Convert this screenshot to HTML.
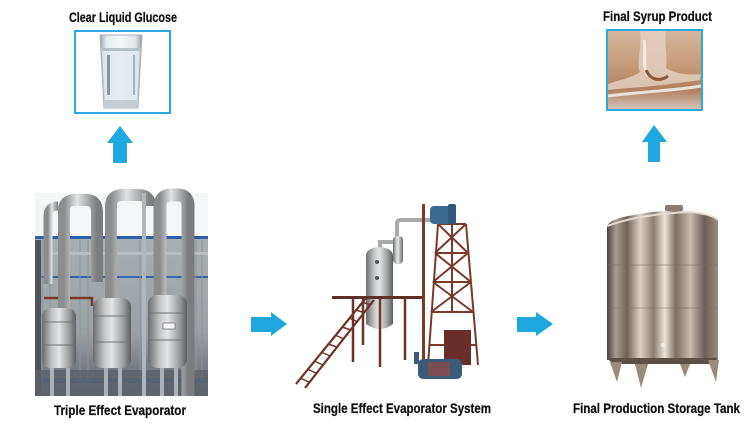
<!DOCTYPE html>
<html><head><meta charset="utf-8"><style>
html,body{margin:0;padding:0;background:#fff;}
svg{display:block;}
text{font-family:"Liberation Sans",sans-serif;font-weight:bold;fill:#111;stroke:#111;stroke-width:0.25;}
</style></head><body>
<svg width="750" height="426" viewBox="0 0 750 426" xmlns="http://www.w3.org/2000/svg">
<defs>
<linearGradient id="steel" x1="0" x2="1" y1="0" y2="0">
<stop offset="0" stop-color="#6a6c6e"/><stop offset="0.3" stop-color="#c4c6c8"/><stop offset="0.5" stop-color="#e4e5e6"/><stop offset="0.8" stop-color="#9a9c9e"/><stop offset="1" stop-color="#5c5e60"/>
</linearGradient>
<linearGradient id="pipe" x1="0" x2="1" y1="0" y2="0">
<stop offset="0" stop-color="#8a8c8e"/><stop offset="0.4" stop-color="#e2e3e4"/><stop offset="1" stop-color="#7a7c7e"/>
</linearGradient>
<linearGradient id="tank" x1="0" x2="1" y1="0" y2="0">
<stop offset="0" stop-color="#4a423d"/><stop offset="0.08" stop-color="#a89a8e"/><stop offset="0.18" stop-color="#6e625a"/><stop offset="0.3" stop-color="#dcd2c8"/><stop offset="0.42" stop-color="#8a7d72"/><stop offset="0.52" stop-color="#ebe3da"/><stop offset="0.62" stop-color="#7a6e64"/><stop offset="0.75" stop-color="#c8bcb0"/><stop offset="0.88" stop-color="#6a5f58"/><stop offset="1" stop-color="#9a8c80"/>
</linearGradient>
<linearGradient id="syrup" x1="0" x2="0" y1="0" y2="1">
<stop offset="0" stop-color="#d6b8a0"/><stop offset="0.45" stop-color="#c49a78"/><stop offset="0.75" stop-color="#b08060"/><stop offset="1" stop-color="#d8c8bc"/>
</linearGradient>
<linearGradient id="glass" x1="0" x2="1" y1="0" y2="0">
<stop offset="0" stop-color="#9aa4ac"/><stop offset="0.15" stop-color="#e6ecf0"/><stop offset="0.5" stop-color="#f4f7f9"/><stop offset="0.85" stop-color="#dfe6eb"/><stop offset="1" stop-color="#8e99a2"/>
</linearGradient>
<linearGradient id="wall" x1="0" x2="0" y1="0" y2="1">
<stop offset="0" stop-color="#a9b0b4"/><stop offset="0.6" stop-color="#9aa0a4"/><stop offset="1" stop-color="#5a6068"/>
</linearGradient>
</defs>

<!-- Titles -->
<text x="69" y="22" font-size="14" textLength="108" lengthAdjust="spacingAndGlyphs">Clear Liquid Glucose</text>
<text x="603" y="21" font-size="14" textLength="109" lengthAdjust="spacingAndGlyphs">Final Syrup Product</text>

<!-- Glass box -->
<rect x="75" y="31" width="95" height="82" fill="#fff" stroke="#29a9e0" stroke-width="2"/>
<path d="M100,35 L142,35 L138,108 L104,108 Z" fill="url(#glass)" stroke="#a8b2ba" stroke-width="1"/>
<rect x="101" y="48" width="40" height="3" fill="#b6c2ca"/>
<path d="M102,51 L140,51 L137,100 L105,100 Z" fill="#e2eaef" opacity="0.8"/>
<rect x="104" y="100" width="34" height="8" fill="#c6ced4"/>
<rect x="107" y="55" width="3" height="40" fill="#8c969e"/>
<rect x="133" y="55" width="2" height="40" fill="#a6b0b8"/>

<!-- Syrup box -->
<rect x="607" y="30" width="95" height="80" fill="url(#syrup)" stroke="#29a9e0" stroke-width="2"/>
<path d="M640,31 C642,50 636,62 640,72 C632,78 618,80 608,84 L608,90 C630,88 660,86 700,80 L701,74 C685,76 672,72 666,68 C668,56 664,44 666,31 Z" fill="#e4cfbe" opacity="0.85"/>
<path d="M644,40 C646,55 642,66 648,76" stroke="#f4ece4" stroke-width="3" fill="none"/>
<path d="M608,96 C640,92 680,90 701,86" stroke="#ece2d8" stroke-width="3" fill="none"/>
<path d="M646,70 C650,80 660,82 668,76" stroke="#8a5a3a" stroke-width="3" fill="none"/>

<!-- Up arrows -->
<polygon points="120,126 133,143 127,143 127,163 113,163 113,143 107,143" fill="#1fa8df"/>
<polygon points="654,125 667,142 660,142 660,162 648,162 648,142 642,142" fill="#1fa8df"/>

<!-- Right arrows -->
<polygon points="251,317 271,317 271,312 287,324 271,336 271,332 251,332" fill="#1fa8df"/>
<polygon points="517,317 536,317 536,312 553,324 536,336 536,332 517,332" fill="#1fa8df"/>

<!-- Triple effect evaporator -->
<g>
<rect x="35" y="193" width="173" height="203" fill="#f4f6f8"/>
<rect x="35" y="237" width="173" height="159" fill="url(#wall)"/>
<rect x="35" y="236" width="173" height="3" fill="#2f5ea6"/>
<rect x="35" y="276" width="173" height="2" fill="#3a64a8"/>
<rect x="35" y="378" width="173" height="5" fill="#3a5c98"/>
<g stroke="#8e959a" stroke-width="1">
<line x1="42" y1="240" x2="42" y2="380"/><line x1="50" y1="240" x2="50" y2="380"/><line x1="80" y1="240" x2="80" y2="380"/><line x1="88" y1="240" x2="88" y2="380"/><line x1="140" y1="240" x2="140" y2="380"/><line x1="196" y1="240" x2="196" y2="380"/><line x1="202" y1="240" x2="202" y2="380"/>
</g>
<rect x="35" y="240" width="6" height="156" fill="#4e5358"/>
<rect x="35" y="370" width="173" height="26" fill="#5e646a" opacity="0.8"/>
<rect x="50" y="252" width="158" height="3" fill="#b8bcc0"/>
<path d="M44,298 L92,298 L92,306" stroke="#7a3a2a" stroke-width="2.5" fill="none"/>
<g fill="none" stroke="url(#pipe)" stroke-linecap="butt">
<path d="M48,284 L48,216 Q48,206 58,206" stroke-width="9"/>
<path d="M64,310 L64,210 Q64,200 76,200 L86,200 Q97,200 97,212 L97,282" stroke-width="12"/>
<path d="M111,300 L111,206 Q111,195 123,195 L138,195 Q150,195 150,206" stroke-width="12"/>
<path d="M133,210 L133,282" stroke-width="7"/>
<path d="M160,297 L160,206 Q160,195 172,195 L178,195 Q188,195 188,206 L188,396" stroke-width="13"/>
</g>
<rect x="142" y="193" width="4" height="203" fill="#b0b6bc"/>
<rect x="42" y="308" width="34" height="60" rx="8" fill="url(#steel)"/>
<rect x="93" y="298" width="38" height="70" rx="9" fill="url(#steel)"/>
<rect x="148" y="295" width="39" height="73" rx="9" fill="url(#steel)"/>
<g stroke="#6e7074" stroke-width="1">
<line x1="42" y1="322" x2="76" y2="322"/><line x1="93" y1="316" x2="131" y2="316"/><line x1="148" y1="313" x2="187" y2="313"/>
<line x1="42" y1="345" x2="76" y2="345"/><line x1="93" y1="342" x2="131" y2="342"/><line x1="148" y1="340" x2="187" y2="340"/>
</g>
<rect x="163" y="323" width="12" height="6" fill="#f4f4f4" stroke="#555" stroke-width="0.6"/>
<g fill="#aeb2b6">
<rect x="50" y="368" width="4" height="28"/><rect x="66" y="368" width="4" height="28"/>
<rect x="104" y="368" width="4" height="28"/><rect x="118" y="368" width="4" height="28"/>
<rect x="160" y="368" width="4" height="28"/><rect x="174" y="368" width="4" height="28"/>
</g>
</g>
<text x="54" y="415" font-size="14" textLength="132" lengthAdjust="spacingAndGlyphs">Triple Effect Evaporator</text>

<!-- Single effect evaporator system -->
<g>
<path d="M380,250 L380,242 L397,242 L397,236 L397,224 Q397,220 401,220 L432,220" fill="none" stroke="#a8aaac" stroke-width="4"/>
<rect x="393" y="236" width="10" height="28" rx="4" fill="url(#steel)"/>
<path d="M366,256 Q366,248 379,247 Q393,248 393,256 L393,324 Q380,334 366,324 Z" fill="url(#steel)"/>
<circle cx="377" cy="262" r="2" fill="#555"/><circle cx="377" cy="278" r="2" fill="#555"/>
<rect x="332" y="296" width="91" height="3" fill="#5e3028"/>
<g stroke="#6e3426" stroke-width="2.5">
<line x1="353" y1="299" x2="353" y2="362"/><line x1="380" y1="299" x2="380" y2="367"/><line x1="405" y1="299" x2="405" y2="360"/><line x1="363" y1="299" x2="363" y2="345"/>
</g>
<g stroke="#6e3426" stroke-width="2.2">
<line x1="296" y1="384" x2="366" y2="298"/><line x1="305" y1="388" x2="374" y2="300"/>
</g>
<g stroke="#6e3426" stroke-width="1.5">
<line x1="300" y1="378" x2="309" y2="382"/><line x1="307" y1="369" x2="316" y2="373"/><line x1="314" y1="361" x2="323" y2="365"/><line x1="321" y1="352" x2="330" y2="356"/><line x1="328" y1="344" x2="337" y2="347"/><line x1="335" y1="335" x2="344" y2="339"/><line x1="342" y1="327" x2="351" y2="330"/><line x1="349" y1="318" x2="358" y2="322"/><line x1="356" y1="310" x2="365" y2="313"/><line x1="362" y1="302" x2="371" y2="305"/>
</g>
<rect x="422" y="204" width="3" height="161" fill="#7a3a2a"/>
<g stroke="#7a3a2a" stroke-width="2" fill="none">
<line x1="428" y1="365" x2="438" y2="224"/><line x1="478" y1="365" x2="466" y2="224"/>
<line x1="438" y1="224" x2="466" y2="224"/><line x1="435" y1="253" x2="468" y2="253"/><line x1="433" y1="282" x2="471" y2="282"/><line x1="431" y1="312" x2="473" y2="312"/><line x1="429" y1="345" x2="476" y2="345"/>
<line x1="438" y1="224" x2="468" y2="253"/><line x1="466" y1="224" x2="435" y2="253"/>
<line x1="435" y1="253" x2="471" y2="282"/><line x1="468" y1="253" x2="433" y2="282"/>
<line x1="433" y1="282" x2="473" y2="312"/><line x1="471" y1="282" x2="431" y2="312"/>
<line x1="452" y1="224" x2="452" y2="312"/>
</g>
<rect x="444" y="330" width="27" height="35" fill="#6a2e28"/>
<rect x="430" y="206" width="22" height="18" rx="4" fill="#3e6a92"/>
<rect x="448" y="204" width="8" height="20" rx="2" fill="#2e5a80"/>
<rect x="418" y="359" width="44" height="20" rx="5" fill="#3a5a78"/>
<rect x="428" y="362" width="22" height="14" fill="#8a4a4a" opacity="0.8"/>
<rect x="414" y="352" width="5" height="12" fill="#3a5a78"/>
</g>
<text x="313" y="413" font-size="14" textLength="178" lengthAdjust="spacingAndGlyphs">Single Effect Evaporator System</text>

<!-- Storage tank -->
<g>
<rect x="665" y="205" width="18" height="6" rx="2" fill="#8a7c70"/>
<path d="M607,226 Q610,218 640,214 Q665,209 690,212 Q712,214 718,220 L718,360 L607,360 Z" fill="url(#tank)"/>
<path d="M607,226 Q640,214 690,212 Q712,214 718,220" fill="none" stroke="#e4dcd4" stroke-width="2"/>
<g stroke="#7a6e64" stroke-width="0.8" opacity="0.7">
<line x1="607" y1="265" x2="718" y2="265"/><line x1="607" y1="308" x2="718" y2="308"/>
</g>
<circle cx="663" cy="345" r="2" fill="#eee"/>
<path d="M607,358 L718,358 L712,364 L613,364 Z" fill="#5a5048"/>
<g fill="#9a8a7a">
<polygon points="610,362 622,362 617,382"/>
<polygon points="635,364 648,364 641,388"/>
<polygon points="680,364 690,364 685,377"/>
<polygon points="708,360 719,360 716,382"/>
</g>
</g>
<text x="573" y="413" font-size="14" textLength="167" lengthAdjust="spacingAndGlyphs">Final Production Storage Tank</text>
</svg>
</body></html>
